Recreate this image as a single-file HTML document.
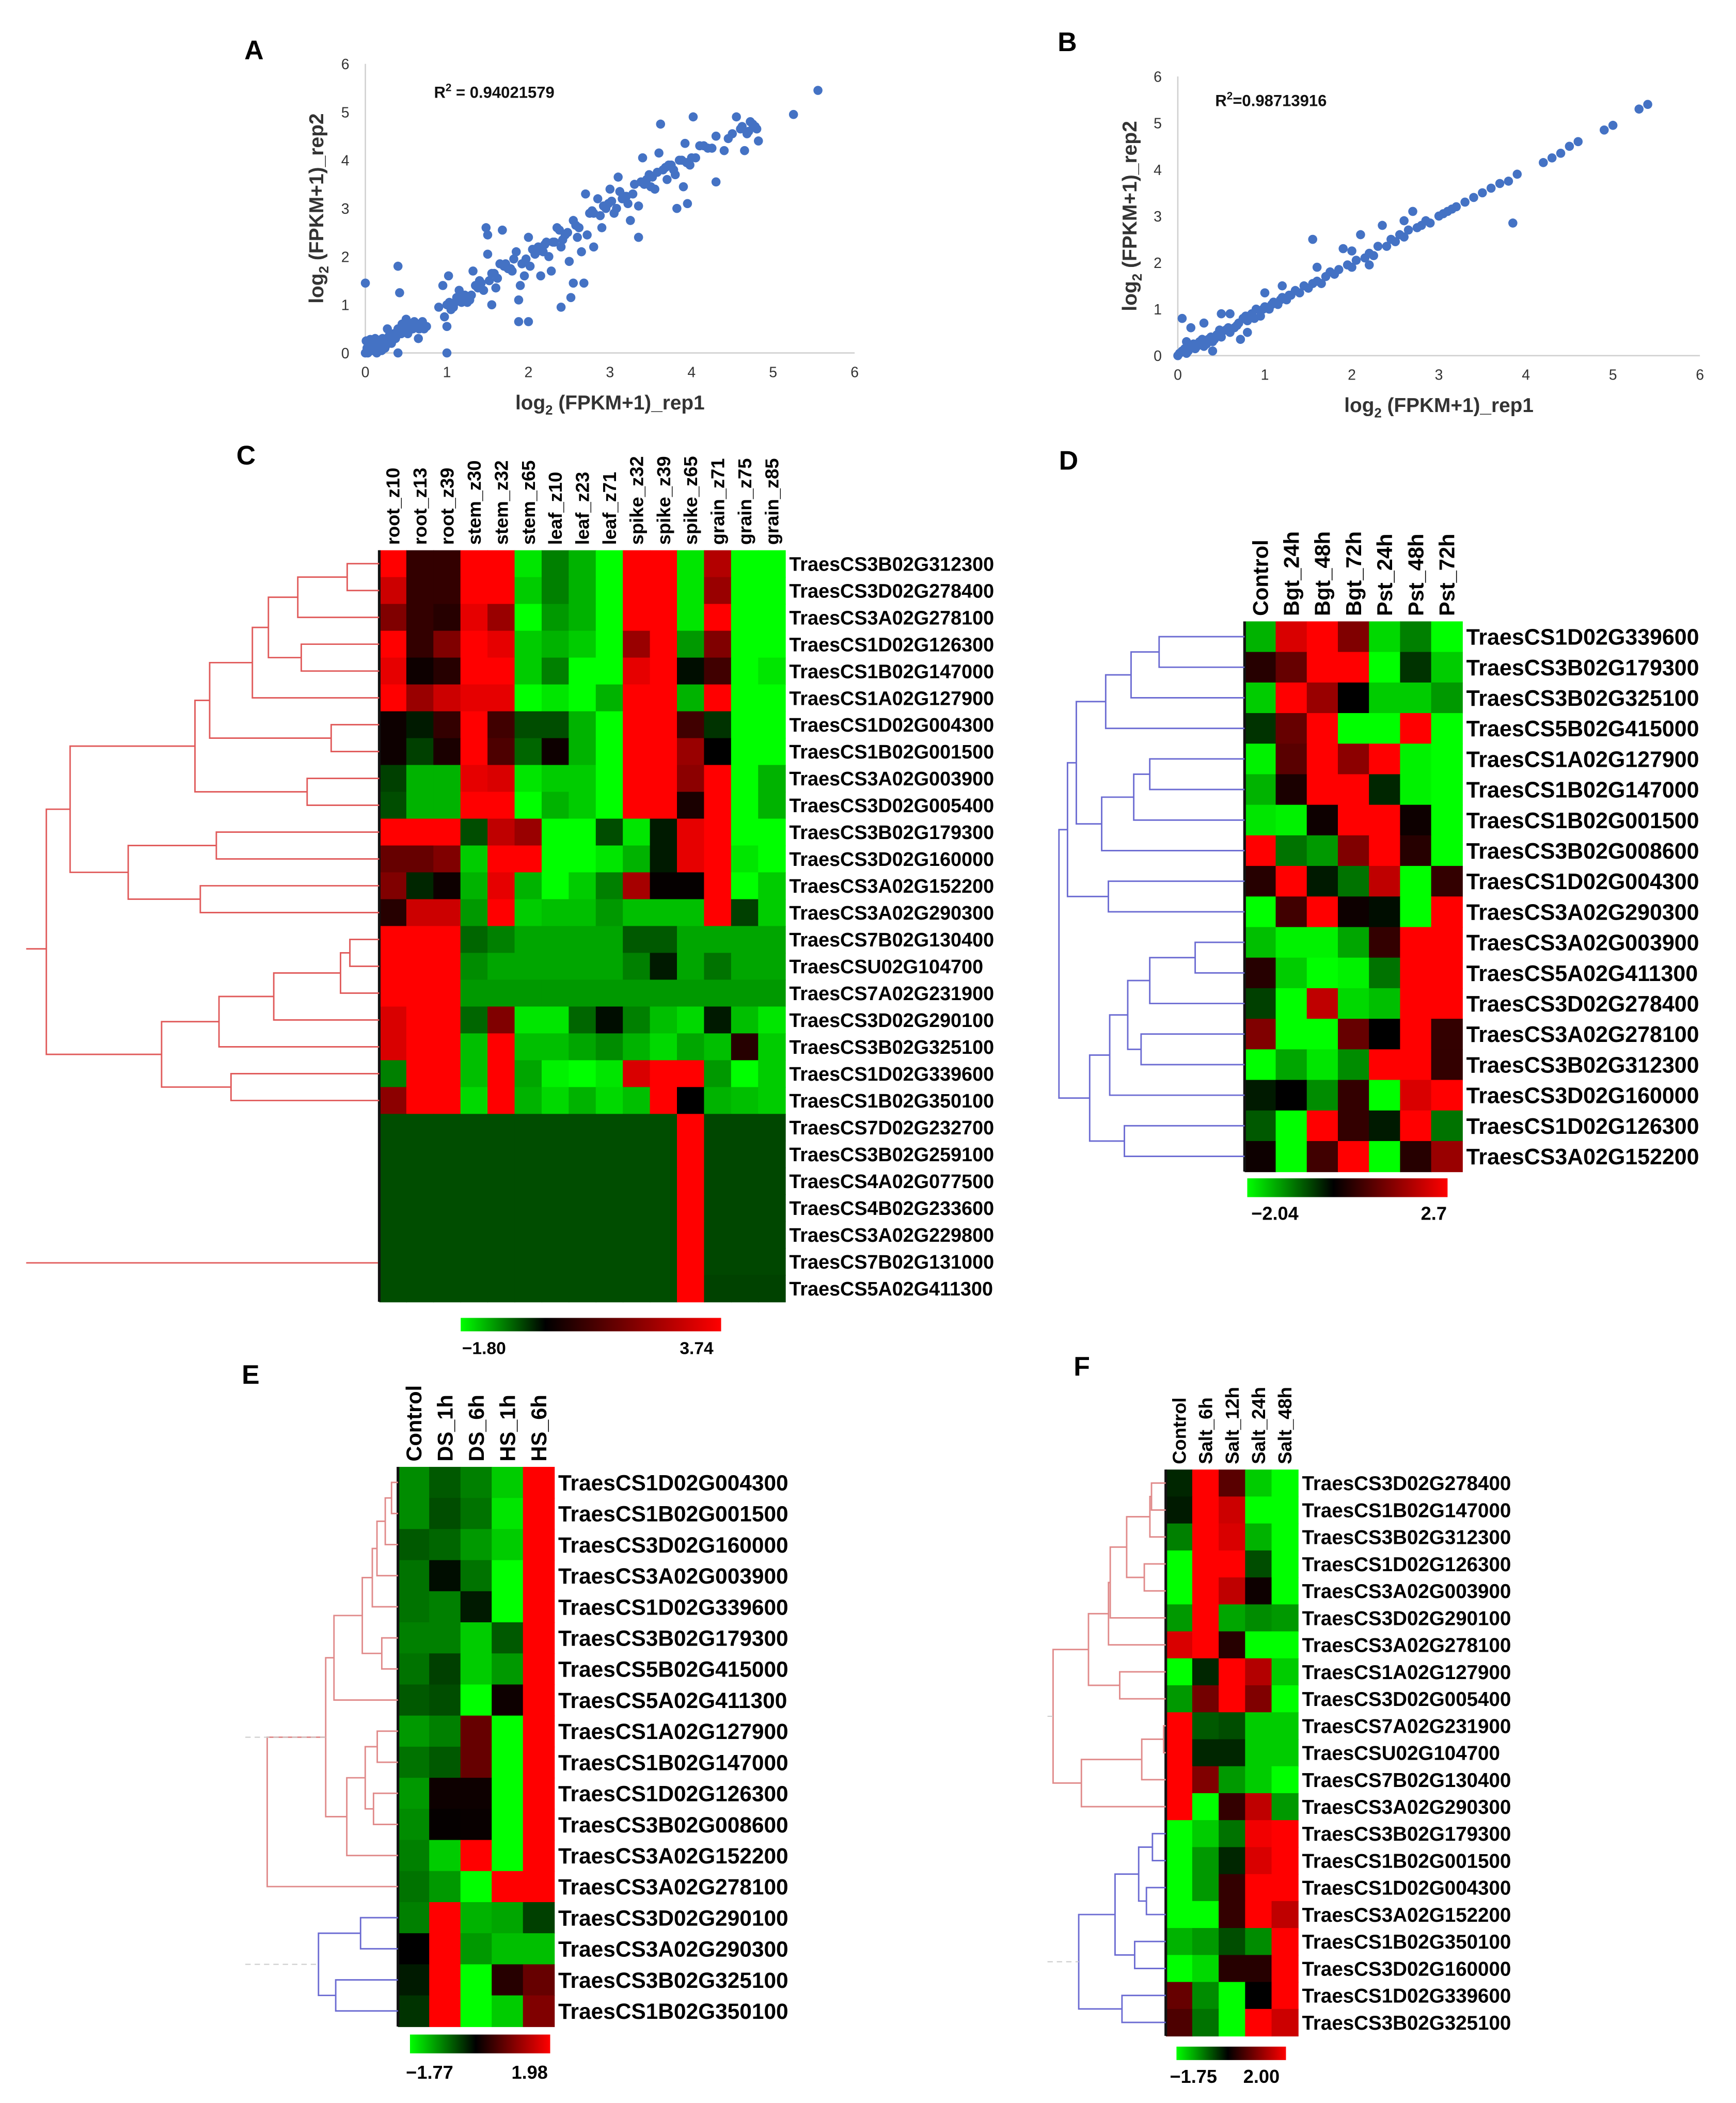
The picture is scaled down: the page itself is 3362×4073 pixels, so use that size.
<!DOCTYPE html>
<html><head><meta charset="utf-8"><title>Expression figure</title>
<style>
html,body{margin:0;padding:0;background:#fff;}
svg{display:block;}
text{font-family:"Liberation Sans",Arial,sans-serif;}
</style></head>
<body>
<svg id="fig" xmlns="http://www.w3.org/2000/svg" width="3362" height="4073" viewBox="0 0 1300 1567" preserveAspectRatio="none">
<rect x="0" y="0" width="1300" height="1575" fill="#fff"/>
<g id="root"></g>
</svg>
<script>
// ---------- Scatter data ----------
const scatterA_x = [0,0.02,0.05,0.08,0.1,0.12,0.15,0.18,0.2,0.22,0.25,0.27,0.3,0.32,0.35,0.38,0.4,0.4,0.42,0.45,0.48,0.5,0.52,0.55,0.58,0.6,0.62,0.65,0.68,0.7,0.72,0.75,0.03,0.06,0.14,0.0,0.4,0.42,0.9,0.95,0.97,1.0,1.0,1.0,1.02,1.05,1.1,1.15,1.2,1.25,1.3,1.32,1.35,1.4,1.45,1.48,1.5,1.5,1.55,1.55,1.6,1.65,1.68,1.7,1.75,1.8,1.85,1.88,1.88,1.9,1.92,1.95,2.0,2.0,2.02,2.1,2.15,2.2,2.25,2.28,2.3,2.35,2.4,2.4,2.45,2.5,2.52,2.55,2.55,2.6,2.65,2.68,2.7,2.72,2.8,2.8,2.85,2.9,2.95,3.0,3.05,3.1,3.15,3.2,3.25,3.3,3.35,3.35,3.4,3.45,3.5,3.55,3.6,3.62,3.65,3.7,3.75,3.8,3.82,3.85,3.9,3.92,3.95,3.98,4.02,4.05,4.1,4.2,4.3,4.3,4.4,4.5,4.55,4.6,4.65,4.7,4.75,4.8,4.82,5.25,5.55,
0.01,0.04,0.07,0.11,0.13,0.17,0.21,0.24,0.29,0.33,0.37,0.44,0.47,0.53,0.57,0.63,0.66,1.03,1.08,1.12,1.18,1.22,1.28,1.38,1.42,1.52,1.58,1.62,1.72,1.78,1.82,1.97,2.05,2.08,2.12,2.18,2.22,2.32,2.38,2.42,2.48,2.58,2.62,2.75,2.78,2.88,2.92,2.98,3.02,3.08,3.12,3.18,3.22,3.28,3.38,3.42,3.48,3.52,3.58,3.68,3.72,3.78,3.88,3.94,4.0,4.15,4.25,4.45,4.62,4.68,4.72,4.78];
const scatterA_y = [0,0.1,0.2,0.05,0.15,0.3,0.1,0.2,0.05,0.25,0.15,0.5,0.3,0.2,0.4,0.35,0.5,0,0.45,0.6,0.55,0.7,0.4,0.6,0.5,0.65,0.55,0.3,0.6,0.65,0.5,0.55,0.0,0.28,0.0,1.45,1.8,1.25,0.95,1.4,0.75,0.0,0.55,1.0,1.6,0.9,1.05,1.3,1.1,1.05,1.2,1.7,1.4,1.5,1.3,2.6,2.05,2.45,1.0,1.65,1.35,1.85,2.55,1.8,1.75,1.7,2.1,0.65,1.1,1.4,1.85,1.6,0.65,2.4,1.8,2.1,1.6,2.25,2.0,1.7,2.3,2.6,0.95,2.2,2.45,1.9,1.15,1.45,2.75,2.4,2.1,1.45,3.3,2.45,2.2,2.9,3.2,2.6,3.0,3.4,2.9,3.65,3.2,3.25,2.75,3.5,3.05,2.4,4.05,3.6,3.45,3.4,4.15,4.75,3.8,3.6,3.9,3.7,3.0,4.0,3.45,4.35,3.1,3.9,4.9,4.05,4.3,4.25,4.5,3.55,4.2,4.55,4.9,4.65,4.2,4.6,4.75,4.65,4.4,4.95,5.45,
0.25,0.05,0.15,0.2,0.1,0.25,0.3,0.1,0.35,0.25,0.3,0.4,0.5,0.45,0.55,0.6,0.5,1.05,0.95,1.15,1.05,1.2,1.1,1.35,1.45,1.5,1.65,1.55,1.85,1.75,1.95,1.95,2.15,2.05,2.2,2.1,2.3,2.3,2.55,2.35,2.5,2.65,2.6,2.9,2.95,2.85,3.05,3.1,3.15,3.0,3.35,3.25,3.1,3.3,3.55,3.5,3.7,3.65,3.75,3.85,3.9,3.8,4.0,3.95,4.05,4.3,4.25,4.45,4.7,4.55,4.8,4.7];
const scatterB_x = [0,0.05,0.1,0.15,0.2,0.25,0.05,0.3,0.35,0.4,0.45,0.5,0.5,0.55,0.6,0.65,0.7,0.72,0.75,0.8,0.85,0.9,0.95,1.0,1.05,1.1,1.15,1.2,1.25,1.3,1.35,1.4,1.45,1.5,1.55,1.55,1.6,1.65,1.7,1.75,1.8,1.85,1.9,1.95,2.0,2.05,2.1,2.15,2.2,2.25,2.3,2.35,2.4,2.45,2.5,2.55,2.6,2.65,2.7,2.75,2.8,2.85,2.9,3.0,3.05,3.1,3.2,3.3,3.4,3.5,3.6,3.7,3.8,3.85,3.9,4.2,4.3,4.4,4.5,4.6,4.9,5.0,5.3,5.4,0.15,0.1,0.3,0.6,1.0,0.8,1.6,2.0,2.2,2.6,3.15,1.2,0.4,
0.02,0.08,0.12,0.18,0.22,0.28,0.33,0.38,0.42,0.48,0.58,0.68,0.78,0.88,0.98,1.08,1.18,1.28];
const scatterB_y = [0,0.1,0.05,0.2,0.15,0.3,0.8,0.2,0.35,0.3,0.45,0.4,0.9,0.55,0.5,0.6,0.7,0.35,0.8,0.75,0.9,1.0,0.85,1.05,1.0,1.15,1.1,1.25,1.2,1.3,1.4,1.35,1.5,1.45,2.5,1.55,1.6,1.55,1.7,1.8,1.75,1.85,2.3,1.95,1.9,2.05,2.6,2.1,2.2,2.15,2.35,2.8,2.35,2.5,2.45,2.6,2.55,2.7,3.1,2.75,2.8,2.9,2.85,3.0,3.05,3.1,3.2,3.3,3.4,3.5,3.6,3.7,3.75,2.85,3.9,4.15,4.25,4.35,4.5,4.6,4.85,4.95,5.3,5.4,0.6,0.3,0.7,0.9,1.35,0.5,1.9,2.25,1.95,2.9,3.15,1.5,0.1,
0.05,0.15,0.1,0.25,0.2,0.35,0.25,0.4,0.35,0.55,0.6,0.65,0.85,0.8,1.0,1.1,1.2,1.3];
const axisTicks = ["0","1","2","3","4","5","6"];

// ---------- Heatmap C ----------
const cCols = ["root_z10","root_z13","root_z39","stem_z30","stem_z32","stem_z65","leaf_z10","leaf_z23","leaf_z71","spike_z32","spike_z39","spike_z65","grain_z71","grain_z75","grain_z85"];
const cRows = ["TraesCS3B02G312300","TraesCS3D02G278400","TraesCS3A02G278100","TraesCS1D02G126300","TraesCS1B02G147000","TraesCS1A02G127900","TraesCS1D02G004300","TraesCS1B02G001500","TraesCS3A02G003900","TraesCS3D02G005400","TraesCS3B02G179300","TraesCS3D02G160000","TraesCS3A02G152200","TraesCS3A02G290300","TraesCS7B02G130400","TraesCSU02G104700","TraesCS7A02G231900","TraesCS3D02G290100","TraesCS3B02G325100","TraesCS1D02G339600","TraesCS1B02G350100","TraesCS7D02G232700","TraesCS3B02G259100","TraesCS4A02G077500","TraesCS4B02G233600","TraesCS3A02G229800","TraesCS7B02G131000","TraesCS5A02G411300"];
const cVals = [
[1,.2,.2,1,1,-.9,-.5,-.7,-1,1,1,-.9,.7,-1,-1],
[.8,.2,.2,1,1,-.8,-.5,-.7,-1,1,1,-.9,.6,-1,-1],
[.5,.2,.15,.9,.6,-1,-.6,-.7,-1,1,1,-.9,1,-1,-1],
[1,.2,.5,1,.9,-.8,-.7,-.8,-1,.6,1,-.6,.5,-1,-1],
[.9,.05,.15,1,1,-.8,-.5,-1,-1,.9,1,-.05,.25,-1,-.9],
[1,.6,.8,.9,.9,-1,-.9,-1,-.7,1,1,-.7,1,-1,-1],
[.05,-.1,.2,1,.25,-.3,-.3,-.7,-1,1,1,.25,-.2,-1,-1],
[.05,-.25,.1,1,.3,-.4,.05,-.7,-1,1,1,.6,0,-1,-1],
[-.25,-.7,-.7,.9,.85,-.9,-.8,-.8,-1,1,1,.55,1,-1,-.7],
[-.3,-.7,-.7,1,1,-1,-.7,-.8,-1,1,1,.1,1,-1,-.7],
[1,1,1,-.3,.75,.6,-1,-1,-.3,-.9,-.1,.9,1,-1,-1],
[.4,.4,.5,-.8,1,1,-1,-1,-.9,-.7,-.1,.9,1,-.9,-1],
[.5,-.15,.05,-.7,.9,-.7,-1,-.8,-.5,.65,.02,.02,1,-1,-.8],
[.15,.8,.8,-.6,1,-.8,-.75,-.75,-.6,-.75,-.75,-.75,1,-.25,-.8],
[1,1,1,-.4,-.5,-.65,-.65,-.65,-.65,-.35,-.35,-.65,-.65,-.65,-.65],
[1,1,1,-.55,-.65,-.65,-.65,-.65,-.65,-.5,-.1,-.65,-.45,-.65,-.65],
[1,1,1,-.6,-.6,-.6,-.6,-.6,-.6,-.6,-.6,-.6,-.6,-.6,-.6],
[.85,1,1,-.4,.5,-.9,-.9,-.4,-.05,-.5,-.75,-.85,-.1,-.75,-.9],
[.85,1,1,-.75,1,-.75,-.75,-.65,-.55,-.7,-.85,-.65,-.75,.15,-.8],
[-.5,1,1,-.75,1,-.65,-.95,-1,-.9,.85,1,1,-.6,-1,-.8],
[.55,1,1,-.85,1,-.7,-.85,-.7,-.85,-.75,1,0,-.7,-.75,-.8],
[-.3,-.3,-.3,-.3,-.3,-.3,-.3,-.3,-.3,-.3,-.3,1,-.28,-.28,-.28],
[-.3,-.3,-.3,-.3,-.3,-.3,-.3,-.3,-.3,-.3,-.3,1,-.28,-.28,-.28],
[-.3,-.3,-.3,-.3,-.3,-.3,-.3,-.3,-.3,-.3,-.3,1,-.28,-.28,-.28],
[-.3,-.3,-.3,-.3,-.3,-.3,-.3,-.3,-.3,-.3,-.3,1,-.28,-.28,-.28],
[-.3,-.3,-.3,-.3,-.3,-.3,-.3,-.3,-.3,-.3,-.3,1,-.28,-.28,-.28],
[-.3,-.3,-.3,-.3,-.3,-.3,-.3,-.3,-.3,-.3,-.3,1,-.28,-.28,-.28],
[-.3,-.3,-.3,-.3,-.3,-.3,-.3,-.3,-.3,-.3,-.3,1,-.26,-.26,-.26]];
const cMerges = [[0,1,260],[28,2,223],[3,4,225.6],[29,30,201],[31,5,189],[6,7,248],[32,33,157],[8,9,230],[34,35,146],[10,11,162],[12,13,150],[37,38,96],[36,39,52.5],[14,15,262],[41,16,255],[42,17,205],[43,18,164],[19,20,173],[44,45,121],[40,46,34.7]];

// ---------- Heatmap D ----------
const dCols = ["Control","Bgt_24h","Bgt_48h","Bgt_72h","Pst_24h","Pst_48h","Pst_72h"];
const dRows = ["TraesCS1D02G339600","TraesCS3B02G179300","TraesCS3B02G325100","TraesCS5B02G415000","TraesCS1A02G127900","TraesCS1B02G147000","TraesCS1B02G001500","TraesCS3B02G008600","TraesCS1D02G004300","TraesCS3A02G290300","TraesCS3A02G003900","TraesCS5A02G411300","TraesCS3D02G278400","TraesCS3A02G278100","TraesCS3B02G312300","TraesCS3D02G160000","TraesCS1D02G126300","TraesCS3A02G152200"];
const dVals = [
[-.7,.85,1,.5,-.85,-.5,-1],
[.15,.4,1,1,-1,-.2,-.8],
[-.8,1,.6,0,-.8,-.8,-.6],
[-.2,.4,1,-1,-1,1,-1],
[-.95,.35,1,.55,1,-.95,-1],
[-.7,.1,1,1,-.15,-.95,-1],
[-.9,-.95,.05,1,1,.05,-1],
[1,-.45,-.6,.5,1,.15,-1],
[.15,1,-.1,-.45,.75,-1,.2],
[-1,.25,1,.05,-.05,-1,1],
[-.75,-.95,-.95,-.65,.2,1,1],
[.15,-.8,-1,-.95,-.45,1,1],
[-.25,-1,.75,-.85,-.75,1,1],
[.5,-1,-1,.4,0,1,.2],
[-1,-.65,-.9,-.55,1,1,.2],
[-.1,0,-.55,.2,-1,.85,1],
[-.35,-1,1,.2,-.1,1,-.45],
[.05,-1,.25,1,-1,.15,.6]];
const dMerges = [[0,1,868],[18,2,847],[19,3,828],[4,5,861],[21,6,849],[22,7,825],[20,23,806],[8,9,830],[24,25,799.4],[10,11,895],[27,12,861],[13,14,854.5],[28,29,844.5],[30,15,831],[16,17,842],[31,32,816],[26,33,793]];

// ---------- Heatmap E ----------
const eCols = ["Control","DS_1h","DS_6h","HS_1h","HS_6h"];
const eRows = ["TraesCS1D02G004300","TraesCS1B02G001500","TraesCS3D02G160000","TraesCS3A02G003900","TraesCS1D02G339600","TraesCS3B02G179300","TraesCS5B02G415000","TraesCS5A02G411300","TraesCS1A02G127900","TraesCS1B02G147000","TraesCS1D02G126300","TraesCS3B02G008600","TraesCS3A02G152200","TraesCS3A02G278100","TraesCS3D02G290100","TraesCS3A02G290300","TraesCS3B02G325100","TraesCS1B02G350100"];
const eVals = [
[-.55,-.35,-.5,-.8,1],
[-.55,-.3,-.45,-.9,1],
[-.35,-.4,-.6,-.8,1],
[-.45,-.05,-.45,-1,1],
[-.45,-.5,-.1,-1,1],
[-.5,-.5,-.8,-.35,1],
[-.45,-.25,-.8,-.6,1],
[-.35,-.3,-1,.05,1],
[-.6,-.5,.4,-1,1],
[-.45,-.35,.4,-1,1],
[-.6,.05,.05,-1,1],
[-.55,.02,.03,-1,1],
[-.5,-.8,1,-1,1],
[-.45,-.6,-1,1,1],
[-.5,1,-.7,-.65,-.25],
[0,1,-.6,-.75,-.75],
[-.1,1,-1,.15,.4],
[-.2,1,-1,-.8,.5]];
const eMerges = [[0,1,293.2],[18,2,288.5],[19,3,282.3],[20,4,278.8],[5,6,285.9],[21,22,271.3],[23,7,250.1],[8,9,282.5],[10,11,279.7],[25,26,273.5],[27,12,259.7],[24,28,243.9],[29,13,200.1],[14,15,270.0],[16,17,251.4],[31,32,238.5]];

// ---------- Heatmap F ----------
const fCols = ["Control","Salt_6h","Salt_12h","Salt_24h","Salt_48h"];
const fRows = ["TraesCS3D02G278400","TraesCS1B02G147000","TraesCS3B02G312300","TraesCS1D02G126300","TraesCS3A02G003900","TraesCS3D02G290100","TraesCS3A02G278100","TraesCS1A02G127900","TraesCS3D02G005400","TraesCS7A02G231900","TraesCSU02G104700","TraesCS7B02G130400","TraesCS3A02G290300","TraesCS3B02G179300","TraesCS1B02G001500","TraesCS1D02G004300","TraesCS3A02G152200","TraesCS1B02G350100","TraesCS3D02G160000","TraesCS1D02G339600","TraesCS3B02G325100"];
const fVals = [
[-.15,1,.35,-.8,-1],
[-.1,1,.8,-1,-1],
[-.5,1,.85,-.7,-1],
[-1,1,1,-.3,-1],
[-1,1,.75,.05,-1],
[-.6,1,-.65,-.55,-.6],
[.85,1,.15,-1,-1],
[-1,-.15,1,.7,-.8],
[-.6,.45,1,.5,-1],
[1,-.35,-.3,-.8,-.8],
[1,-.15,-.15,-.8,-.8],
[1,.5,-.6,-.8,-1],
[1,-1,.2,.75,-.6],
[-1,-.8,-.45,.95,1],
[-1,-.6,-.15,.85,1],
[-1,-.6,.2,1,1],
[-1,-1,.2,1,.75],
[-.7,-.6,-.3,-.55,1],
[-1,-.85,.15,.15,1],
[.4,-.55,-1,0,1],
[.3,-.45,-1,1,.8]];
const fMerges = [[0,1,862.3],[21,2,861.1],[3,4,856.9],[22,23,843.7],[24,5,831.4],[25,6,830.1],[7,8,838.5],[26,27,815.1],[9,10,871.4],[29,11,855.0],[30,12,809.8],[28,31,788.6],[13,14,863.0],[15,16,858.5],[33,34,852.7],[17,18,849.7],[35,36,835.0],[19,20,840.2],[37,38,807.8]];

// ---------- Helpers ----------
const NS = "http://www.w3.org/2000/svg";
const root = document.getElementById('root');
function mk(tag, attrs, parent) {
  const e = document.createElementNS(NS, tag);
  for (const k in attrs) e.setAttribute(k, attrs[k]);
  (parent || root).appendChild(e);
  return e;
}
function colorOf(v) {
  v = Math.max(-1, Math.min(1, v));
  if (v < 0) return 'rgb(0,' + Math.round(-v * 255) + ',0)';
  return 'rgb(' + Math.round(v * 255) + ',0,0)';
}

function panelLetter(t, x, y) {
  const e = mk('text', {x: x, y: y, 'font-size': 20, 'font-weight': 'bold', fill: '#000'});
  e.textContent = t;
  
  
}

// ---------- Scatter ----------
function scatter(opts) {
  const g = mk('g', {});
  
  
  const sx = v => opts.x0 + (opts.x6 - opts.x0) * v / 6;
  const sy = v => opts.y0 - (opts.y0 - opts.y6) * v / 6;
  const ya = mk('line', {x1: opts.x0, y1: opts.y0, x2: opts.x0, y2: opts.y6, stroke: '#d0d0d0', 'stroke-width': 1}, g);
  
  
  const xa = mk('line', {x1: opts.x0, y1: opts.y0, x2: opts.x6, y2: opts.y0, stroke: '#d0d0d0', 'stroke-width': 1}, g);
  
  
  axisTicks.forEach((t, i) => {
    const tx = mk('text', {x: sx(i), y: opts.y0 + 18, 'font-size': 11, 'text-anchor': 'middle', fill: '#333'}, g);
    tx.textContent = t;
    
    
    const ty = mk('text', {x: opts.x0 - 12, y: sy(i) + 4, 'font-size': 11, 'text-anchor': 'end', fill: '#333'}, g);
    ty.textContent = t;
    
    
  });
  opts.xs.forEach((xv, i) => {
    const c = mk('circle', {cx: sx(xv), cy: sy(opts.ys[i]), r: 3.4, fill: '#4472C4'}, g);
    
    
  });
  const r2 = mk('text', {x: opts.r2x, y: opts.r2y, 'font-size': 12, 'font-weight': 'bold', fill: '#111'}, g);
  
  
  r2.innerHTML = 'R<tspan font-size="8" dy="-5">2</tspan><tspan dy="5">' + opts.r2 + '</tspan>';
  const xt = mk('text', {x: (opts.x0 + opts.x6) / 2, y: opts.y0 + 42, 'font-size': 15, 'font-weight': 'bold', 'text-anchor': 'middle', fill: '#333'}, g);
  
  
  xt.innerHTML = 'log<tspan font-size="10" dy="4">2</tspan><tspan dy="-4"> (FPKM+1)_rep1</tspan>';
  const cy = (opts.y0 + opts.y6) / 2;
  const yt = mk('text', {x: 0, y: 0, 'font-size': 15, 'font-weight': 'bold', 'text-anchor': 'middle', fill: '#333', transform: 'translate(' + opts.ytx + ',' + cy + ') rotate(-90)'}, g);
  
  
  yt.innerHTML = 'log<tspan font-size="10" dy="4">2</tspan><tspan dy="-4"> (FPKM+1)_rep2</tspan>';
}

// ---------- Heatmap ----------
function heatmap(o) {
  const g = mk('g', {});
  
  
  const nR = o.rows.length, nC = o.cols.length;
  const cw = (o.x1 - o.x0) / nC, rh = (o.y1 - o.y0) / nR;
  o.vals.forEach((row, r) => row.forEach((v, c) => {
    const rc = mk('rect', {x: o.x0 + c * cw, y: o.y0 + r * rh, width: cw + 0.4, height: rh + 0.4, fill: colorOf(v)}, g);
    
    
  }));
  const edge = mk('line', {x1: o.x0, y1: o.y0, x2: o.x0, y2: o.y1, stroke: '#111', 'stroke-width': 2}, g);
  
  
  o.rows.forEach((t, r) => {
    const e = mk('text', {x: o.x1 + 3, y: o.y0 + (r + 0.5) * rh + o.fs * 0.36, 'font-size': o.fs, 'font-weight': 'bold', fill: '#000'}, g);
    e.textContent = t;
    
    
  });
  o.cols.forEach((t, c) => {
    const cx = o.x0 + (c + 0.5) * cw + o.cfs * 0.36;
    const e = mk('text', {x: 0, y: 0, 'font-size': o.cfs, 'font-weight': 'bold', 'text-anchor': 'start', fill: '#000', transform: 'translate(' + cx + ',' + (o.y0 - 4) + ') rotate(-90)'}, g);
    e.textContent = t;
    
    
  });
  const n = nR;
  const nodeY = [], nodeX = [];
  for (let i = 0; i < n; i++) { nodeY.push(o.y0 + (i + 0.5) * rh); nodeX.push(o.x0); }
  o.merges.forEach((m, k) => {
    const [a, b, x] = m;
    const col = o.colorFn ? o.colorFn(a, b, k) : o.dcol;
    const d = 'M' + nodeX[a] + ' ' + nodeY[a] + 'H' + x + 'V' + nodeY[b] + 'H' + nodeX[b];
    const p = mk('path', {d: d, fill: 'none', stroke: col, 'stroke-width': 1.1}, g);
    
    
    nodeY.push((nodeY[a] + nodeY[b]) / 2);
    nodeX.push(x);
  });
  return {nodeX, nodeY, g};
}

function colorbar(o) {
  const id = 'grad' + o.name;
  let defs = document.querySelector('#fig defs');
  if (!defs) defs = mk('defs', {}, document.getElementById('fig'));
  const lg = mk('linearGradient', {id: id, x1: 0, x2: 1, y1: 0, y2: 0}, defs);
  mk('stop', {offset: 0, 'stop-color': '#00ff00'}, lg);
  mk('stop', {offset: o.zero, 'stop-color': '#000'}, lg);
  mk('stop', {offset: 1, 'stop-color': '#ff0000'}, lg);
  const r = mk('rect', {x: o.x, y: o.y, width: o.w, height: o.h, fill: 'url(#' + id + ')'});
  
  
  const a = mk('text', {x: o.lx, y: o.ly, 'font-size': o.fs, 'font-weight': 'bold', fill: '#000'});
  a.textContent = o.lo;
  
  
  const b = mk('text', {x: o.hx, y: o.ly, 'font-size': o.fs, 'font-weight': 'bold', fill: '#000'});
  b.textContent = o.hi;
  
  
}

// ---------- Build ----------
panelLetter('A', 183, 44);
panelLetter('B', 792, 38);
panelLetter('C', 177, 346);
panelLetter('D', 793, 350);
panelLetter('E', 181, 1031);
panelLetter('F', 804, 1025);

scatter({name: 'scatter-a', xs: scatterA_x, ys: scatterA_y, x0: 273.6, x6: 640, y0: 263, y6: 47.6, r2: ' = 0.94021579', r2x: 325, r2y: 73, ytx: 242});
scatter({name: 'scatter-b', xs: scatterB_x, ys: scatterB_y, x0: 882, x6: 1273, y0: 265, y6: 57, r2: '=0.98713916', r2x: 910, r2y: 79, ytx: 851});

const RED = '#e05a5a', BLUE = '#6b6bd2';
heatmap({name: 'heatmap-c', rows: cRows, cols: cCols, vals: cVals, merges: cMerges, x0: 284, x1: 588, y0: 410, y1: 970, fs: 14.6, cfs: 14, dcol: RED});
(function(){
  const s1 = mk('path', {d: 'M19.6 707H34.7', stroke: RED, 'stroke-width': 1.1, fill: 'none'});
  
  
  const s2 = mk('path', {d: 'M19.6 941H283', stroke: RED, 'stroke-width': 1.1, fill: 'none'});
  
  
})();
colorbar({name: 'c', x: 345, y: 982, w: 195, h: 10, zero: 0.325, lo: '\u22121.80', hi: '3.74', lx: 346, hx: 509, ly: 1009, fs: 13});

heatmap({name: 'heatmap-d', rows: dRows, cols: dCols, vals: dVals, merges: dMerges, x0: 932, x1: 1095, y0: 463, y1: 873, fs: 16.6, cfs: 16, dcol: BLUE});
colorbar({name: 'd', x: 934, y: 878, w: 150, h: 14, zero: 0.43, lo: '\u22122.04', hi: '2.7', lx: 937, hx: 1064, ly: 909, fs: 14});

const he = heatmap({name: 'heatmap-e', rows: eRows, cols: eCols, vals: eVals, merges: eMerges, x0: 298, x1: 415, y0: 1093, y1: 1510, fs: 16.4, cfs: 16, dcol: RED,
  colorFn: (a, b, k) => k >= 13 ? BLUE : '#e08a8a'});
colorbar({name: 'e', x: 307, y: 1516, w: 105, h: 14, zero: 0.47, lo: '\u22121.77', hi: '1.98', lx: 304, hx: 383, ly: 1549, fs: 14});

const hf = heatmap({name: 'heatmap-f', rows: fRows, cols: fCols, vals: fVals, merges: fMerges, x0: 873, x1: 972, y0: 1095, y1: 1517, fs: 14.9, cfs: 14, dcol: RED,
  colorFn: (a, b, k) => k >= 12 ? BLUE : '#e08a8a'});
colorbar({name: 'f', x: 881, y: 1525, w: 82, h: 10, zero: 0.47, lo: '\u22121.75', hi: '2.00', lx: 876, hx: 931, ly: 1552, fs: 14});

[[he, 29, 183.7], [he, 33, 183.7], [hf, 32, 784.4], [hf, 39, 784.4]].forEach(([h, idx, xs]) => {
  const y = h.nodeY[idx], x = h.nodeX[idx];
  const p = mk('path', {d: 'M' + xs + ' ' + y + 'H' + x, stroke: '#cccccc', 'stroke-width': 0.8, 'stroke-dasharray': '4 3', fill: 'none'});
  
  
});
</script>
</body></html>
